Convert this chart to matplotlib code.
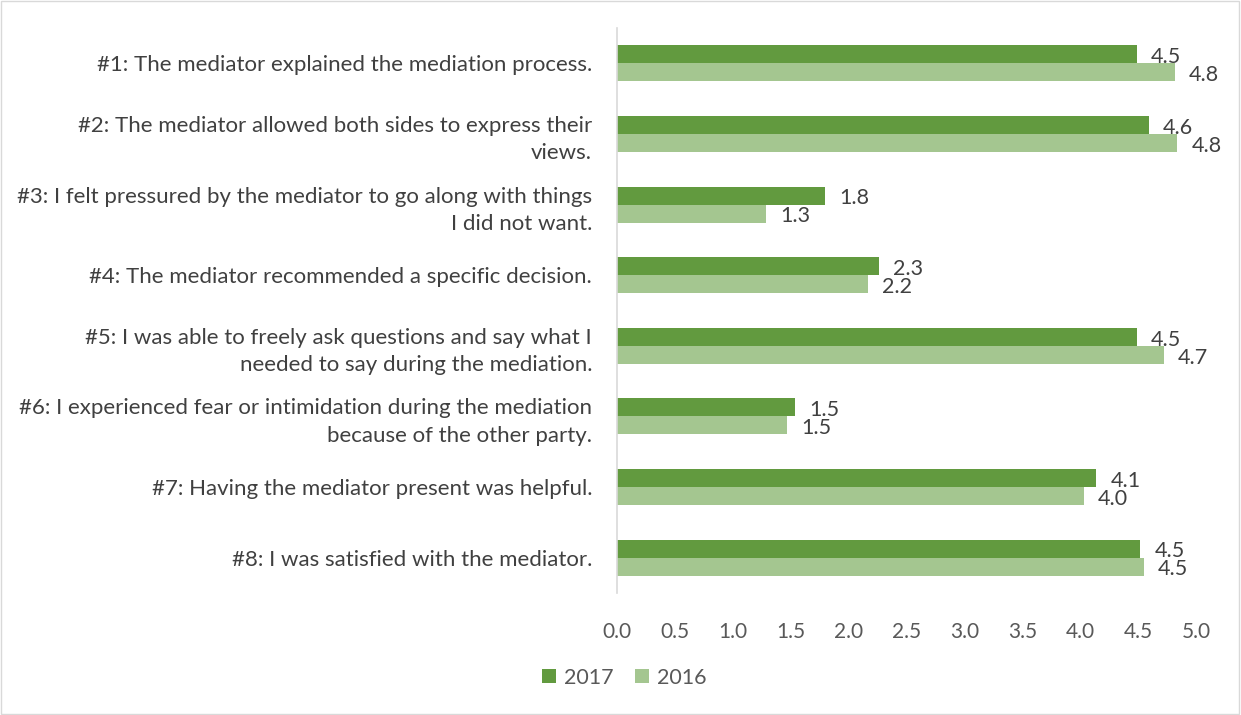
import matplotlib.pyplot as plt
import numpy as np
from matplotlib.patches import Rectangle

plt.rcParams['font.family'] = ['Lato', 'DejaVu Sans']

questions = [
    "#1: The mediator explained the mediation process.",
    "#2: The mediator allowed both sides to express their\nviews.",
    "#3: I felt pressured by the mediator to go along with things\nI did not want.",
    "#4: The mediator recommended a specific decision.",
    "#5: I was able to freely ask questions and say what I\nneeded to say during the mediation.",
    "#6: I experienced fear or intimidation during the mediation\nbecause of the other party.",
    "#7: Having the mediator present was helpful.",
    "#8: I was satisfied with the mediator.",
]
scores_2017 = [4.49, 4.59, 1.80, 2.26, 4.49, 1.54, 4.14, 4.52]
scores_2016 = [4.82, 4.84, 1.29, 2.17, 4.72, 1.47, 4.03, 4.55]

c2017 = '#629A3F'
c2016 = '#A4C690'
txt = '#404040'

fig = plt.figure(figsize=(12.41, 7.15), dpi=100)
ax = fig.add_axes([617 / 1241, 1 - 593 / 715, (1196 - 617) / 1241, (593 - 28) / 715])

y = np.arange(len(questions))
h = 0.255
b17 = ax.barh(y - h / 2, scores_2017, height=h, color=c2017, label='2017')
b16 = ax.barh(y + h / 2, scores_2016, height=h, color=c2016, label='2016')

for bars in (b17, b16):
    for bar in bars:
        w = bar.get_width()
        ax.annotate(f'{w:.1f}', (w, bar.get_y() + bar.get_height() / 2),
                    xytext=(10, -2), textcoords='offset points',
                    ha='left', va='center', fontsize=15.5, color=txt)

ax.set_ylim(len(questions) - 0.5, -0.5)
ax.set_xlim(0, 5)
ax.set_xticks(np.arange(0, 5.01, 0.5))
ax.set_xticklabels([f'{v:.1f}' for v in np.arange(0, 5.01, 0.5)])
ax.set_yticks(y)
ax.set_yticklabels(questions, ha='right', multialignment='right', linespacing=1.45)

for s in ('top', 'right', 'bottom'):
    ax.spines[s].set_visible(False)
ax.spines['left'].set_color('#d9d9d9')
ax.spines['left'].set_linewidth(1.2)
ax.tick_params(axis='x', length=0, labelsize=15, colors='#595959', pad=21)
ax.tick_params(axis='y', length=0, labelsize=16, labelcolor=txt, pad=18)

fig.legend(loc='lower center', bbox_to_anchor=(0.503, 0.011), ncol=2,
           frameon=False, fontsize=15.5, labelcolor='#595959',
           handlelength=0.65, handleheight=0.65, handletextpad=0.35, columnspacing=1.0)

# thin chart-area border
fig.patches.append(Rectangle((0.001, 0.001), 0.997, 0.997, transform=fig.transFigure,
                             fill=False, edgecolor='#d9d9d9', linewidth=1))

fig.savefig('out.png', dpi=100)
